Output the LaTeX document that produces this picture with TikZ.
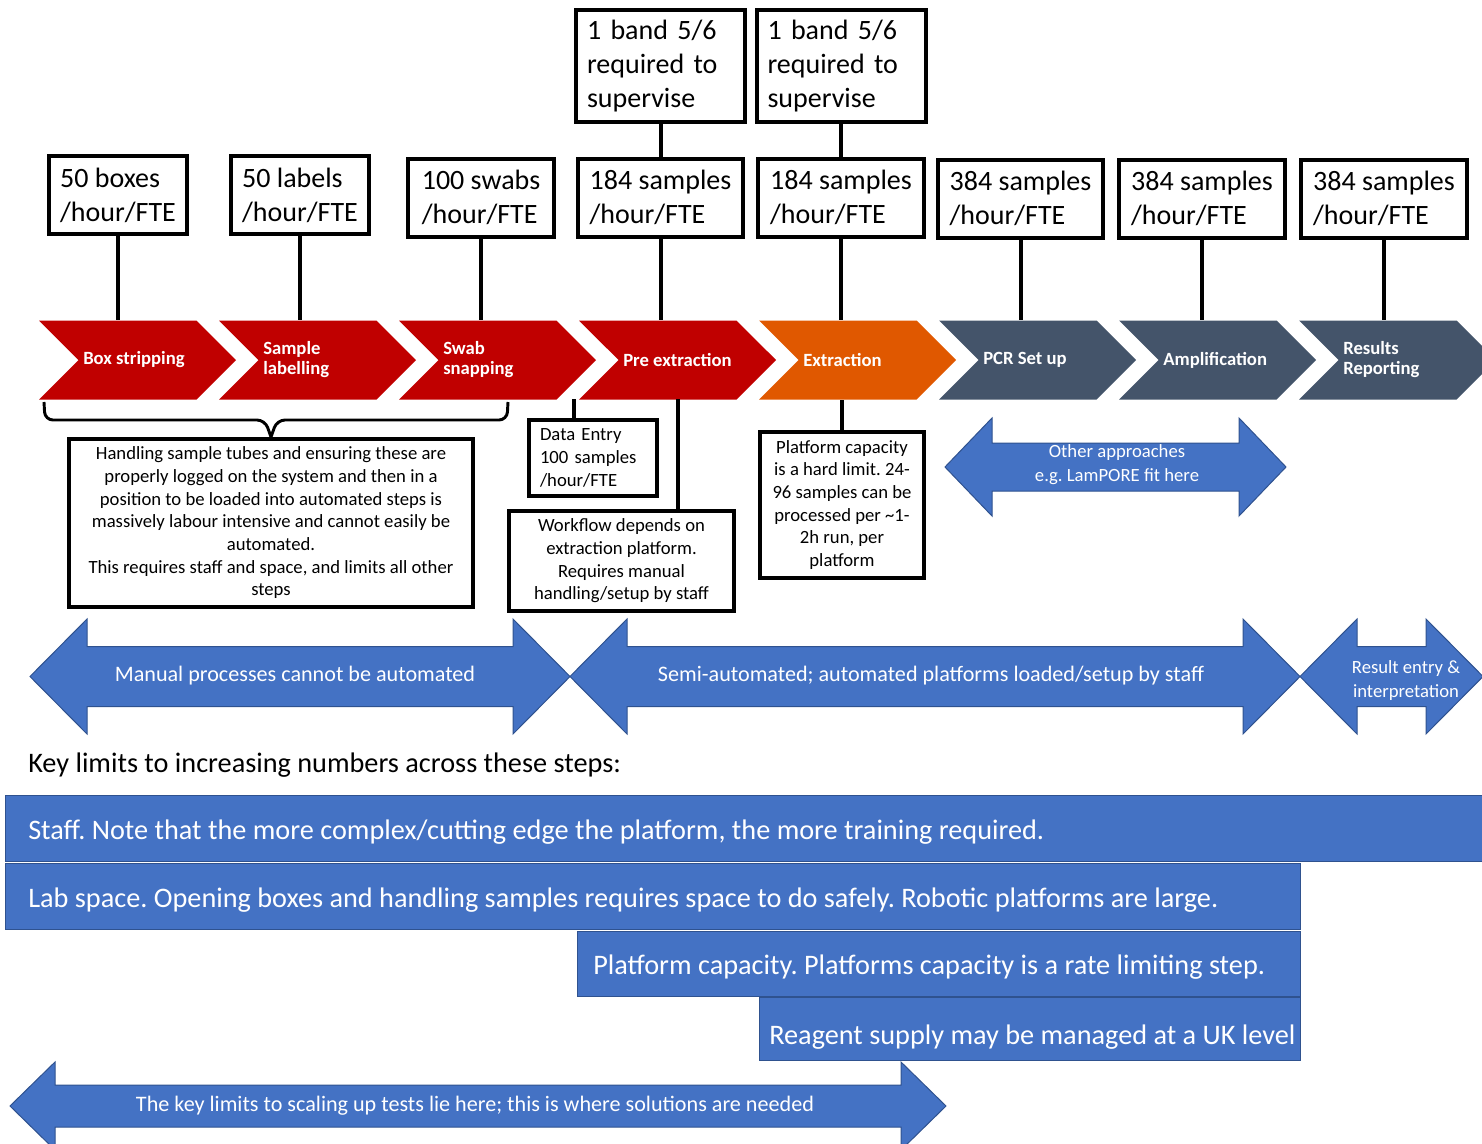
\documentclass[tikz,border=0pt]{standalone}
\usepackage{fontspec}
\setmainfont{Carlito}
\usetikzlibrary{shapes.symbols,positioning}
\definecolor{stepred}{RGB}{192,0,0}
\definecolor{steporange}{RGB}{224,88,0}
\definecolor{stepslate}{RGB}{68,84,106}
\definecolor{keyblue}{RGB}{68,114,196}
\definecolor{keyedge}{RGB}{47,82,143}
\newlength{\px}
\setlength{\px}{0.75pt}
\frenchspacing
% two-headed block arrow: left x, right x, mid y, head length, head half, shaft half
\newcommand{\twoway}[6]{%
  \path[flowarrow] (#1,#3) -- ({#1+#4},{#3-#5}) -- ({#1+#4},{#3-#6}) -- ({#2-#4},{#3-#6})
    -- ({#2-#4},{#3-#5}) -- (#2,#3) -- ({#2-#4},{#3+#5}) -- ({#2-#4},{#3+#6})
    -- ({#1+#4},{#3+#6}) -- ({#1+#4},{#3+#5}) -- cycle;}
\tikzset{
  diag/.style={x=0.75pt,y=-0.75pt},
  rate/.style={draw,line width=3pt,align=left,inner xsep=10\px,inner ysep=0pt,minimum height=78\px,font=\fontsize{21}{25.5}\selectfont},
  sup/.style={rate,text width=147\px,inner xsep=11\px,minimum height=112\px},
  note/.style={draw,line width=3pt,align=center,inner sep=2pt,font=\fontsize{14}{17}\selectfont},
  stem/.style={line width=3pt},
  bracket/.style={line width=2.2pt,rounded corners=8\px},
  chevron/.style={signal,signal from=west,signal to=east,signal pointer angle=90,minimum width=197\px,minimum height=79\px,inner sep=0pt},
  steptext/.style={anchor=west,text=white,align=left,inner sep=0pt,font=\bfseries\fontsize{14}{15}\selectfont},
  flowarrow/.style={fill=keyblue,draw=keyedge,line width=0.75pt},
  flowtext/.style={text=white,align=center,inner sep=0pt,font=\fontsize{16.6}{20}\selectfont},
  smallflow/.style={flowtext,font=\fontsize{14}{18}\selectfont},
  bar/.style={fill=keyblue,draw=keyedge,line width=1pt,anchor=north west,inner sep=0pt},
  bartext/.style={anchor=west,text=white,inner sep=0pt,yshift=-3\px,font=\fontsize{21.2}{25}\selectfont},
}
\begin{document}
\begin{tikzpicture}[diag]
\path[use as bounding box] (0,0) rectangle (1482,1143);
\clip (0,0) rectangle (1482,1143);

% supervision
\node[sup] (s1) at (660.5,66) {1 band 5/6\\required to\\supervise};
\node[sup] (s2) at (841,66) {1 band 5/6\\required to\\supervise};

% throughput per step
\foreach \i/\x/\y/\w/\lbl in {1/118/195/138/50 boxes, 2/300/195/138/50 labels,
    3/481/197.5/146/100 swabs, 4/660.5/197.5/165/184 samples, 5/841/197.5/166/184 samples,
    6/1020.5/198.5/165/384 samples, 7/1202/198.5/166/384 samples, 8/1384/198.5/166/384 samples}
  \node[rate,minimum width=\w\px] (r\i) at (\x,\y) {\lbl\\/hour/FTE};

% process steps
\foreach \i/\col/\lbl in {1/stepred/Box stripping, 2/stepred/{Sample\\labelling},
    3/stepred/{Swab\\snapping}, 4/stepred/Pre extraction, 5/steporange/Extraction,
    6/stepslate/PCR Set up, 7/stepslate/Amplification, 8/stepslate/{Results\\Reporting}} {
  \node[chevron,fill=\col] (c\i) at ({137.5+180*(\i-1)},360) {};
  \node[steptext] (t\i) at ([xshift=-54.5\px]c\i.center) {\lbl};
}
\foreach \i in {1,...,8} \draw[stem] (r\i.south) -- (r\i.south |- c\i.north);
\draw[stem] (s1) -- (r4);
\draw[stem] (s2) -- (r5);

% notes under the steps
\node[note,minimum width=404\px,minimum height=168\px] (hs) at (271,523)
  {Handling sample tubes and ensuring these are\\properly logged on the system and then in a\\position to be loaded into automated steps is\\massively labour intensive and cannot easily be\\automated.\\This requires staff and space, and limits all other\\steps};
\node[note,align=left,text width=106\px,inner xsep=11\px,minimum height=76\px] (de) at (593,458)
  {Data Entry\\100 samples\\/hour/FTE};
\node[note,minimum width=225\px,minimum height=100\px] (wf) at (621.5,561)
  {Workflow depends on\\extraction platform.\\Requires manual\\handling/setup by staff};
\node[note,minimum width=164\px,minimum height=146\px] (pc) at (842,505)
  {Platform capacity\\is a hard limit. 24-\\96 samples can be\\processed per \char`\~1-\\2h run, per\\platform};
\draw[bracket] (44,402) -- (45,420) -- (265,420) -- (hs.north);
\draw[bracket] (hs.north) -- (277,420) -- (507,420) -- (508,402);
\coordinate (de top) at (574,399);
\draw[stem] (de top) -- (de top |- de.north);
\coordinate (wf top) at (678,399);
\draw[stem] (wf top) -- (wf top |- wf.north);
\draw[stem] (pc.north) -- (pc.north |- c5.south);

% automation spans
\twoway{945}{1286}{467}{47}{49}{24}
\node[smallflow] (other) at (1117,465) {Other approaches\\e.g. LamPORE fit here};
\twoway{30}{570}{676.5}{57}{57.5}{30}
\node[flowtext] (manual) at (295,676) {Manual processes cannot be automated};
\twoway{570}{1300}{676.5}{57}{57.5}{30}
\node[flowtext] (semi) at (931,676) {Semi-automated; automated platforms loaded/setup by staff};
\twoway{1300}{1483}{676.5}{57}{57.5}{30}
\node[smallflow] (result) at (1406,681) {Result entry \&\\interpretation};

% key limits
\node[anchor=west,inner sep=0pt,font=\fontsize{21.2}{25}\selectfont] (keyhead) at (28,765)
  {Key limits to increasing numbers across these steps:};
\node[bar,minimum width=1490\px,minimum height=66\px] (staff) at (5,795) {};
\node[bartext] (stafftxt) at ([xshift=23\px]staff.west)
  {Staff. Note that the more complex/cutting edge the platform, the more training required.};
\node[bar,minimum width=1295\px,minimum height=66\px] (lab) at (5,863) {};
\node[bartext] (labtxt) at ([xshift=23\px]lab.west)
  {Lab space. Opening boxes and handling samples requires space to do safely. Robotic platforms are large.};
\node[bar,minimum width=723\px,minimum height=65\px] (cap) at (577,931) {};
\node[bartext] (captxt) at ([xshift=16\px]cap.west)
  {Platform capacity. Platforms capacity is a rate limiting step.};
\node[bar,minimum width=541\px,minimum height=63\px] (reag) at (759,997) {};
\node[bartext,yshift=-5\px] (reagtxt) at ([xshift=10\px]reag.west)
  {Reagent supply may be managed at a UK level};

\twoway{10}{946}{1106}{45}{44}{21}
\node[flowtext] (scale) at (475,1106)
  {The key limits to scaling up tests lie here; this is where solutions are needed};
\end{tikzpicture}
\end{document}
